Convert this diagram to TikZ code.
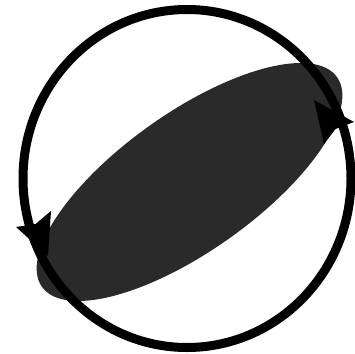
\documentclass[tikz,border=0pt]{standalone}
\usetikzlibrary{calc}
\tikzset{
  diskfill/.style={fill={rgb,255:red,42;green,42;blue,42}},
  ringline/.style={draw=black,line width=9pt},
  headfill/.style={fill=black}
}
\begin{document}
\begin{tikzpicture}[x=1pt,y=-1pt]
\useasboundingbox (0,0) rectangle (355,353);
% disk seen edge-on
\fill[diskfill,rotate around={35.4:(189.5,182)}] (189.5,182) ellipse [x radius=181, y radius=69];
% ring
\draw[ringline] (187,178.5) ellipse [x radius=164, y radius=169];
% left arrowhead (pointing down)
\coordinate (LB1) at (16,227);
\coordinate (LB2) at (51,211);
\coordinate (LN) at (35.5,224);
\coordinate (LT) at (48,256);
\fill[headfill] (LT) -- (LB1) -- (LN) -- (LB2) -- cycle;
% right arrowhead (pointing up)
\coordinate (RB1) at (354,122);
\coordinate (RB2) at (324,144);
\coordinate (RN) at (335.5,129);
\coordinate (RT) at (314,100);
\fill[headfill] (RT) -- (RB1) -- (RN) -- (RB2) -- cycle;
\end{tikzpicture}
\end{document}
